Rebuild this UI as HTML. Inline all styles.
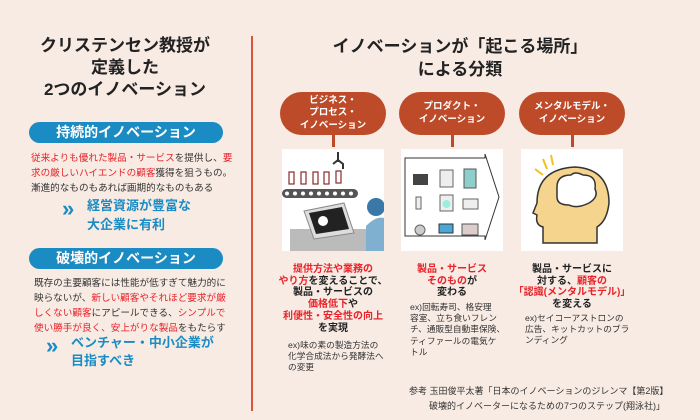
<!DOCTYPE html>
<html><head><meta charset="utf-8"><style>
*{margin:0;padding:0;box-sizing:border-box}
body{width:700px;height:420px;background:#f8ebe4;position:relative;overflow:hidden;font-family:"Liberation Sans","Noto Sans CJK JP",sans-serif;color:#222}
.a{position:absolute;white-space:nowrap}
.r{color:#e8232a}
.pill{position:absolute;background:#1b8cc3;color:#fff;border-radius:11px;font-weight:bold;font-size:14px;text-align:center;line-height:21px}
.op{position:absolute;background:#bd4b29;color:#fff;border-radius:22px;font-weight:bold;font-size:9.5px;text-align:center;line-height:12.5px;display:flex;align-items:center;justify-content:center;width:106px;height:43px;top:92px}
.stem{position:absolute;width:3px;height:12px;background:#bd4b29;top:135px}
.img{position:absolute;background:#fff;width:102px;height:102px;top:149px}
.bt{position:absolute;text-align:center;font-weight:bold;font-size:10px;line-height:11.7px;width:160px;white-space:nowrap}
.ex{position:absolute;font-size:8.7px;line-height:11.2px;color:#333;white-space:nowrap}
</style></head><body>
<div class="a" style="left:0;width:250px;top:35px;text-align:center;font-weight:bold;font-size:17px;line-height:22px">クリステンセン教授が<br>定義した<br>2つのイノベーション</div>
<div class="pill" style="left:29px;top:122px;width:194px;height:21px">持続的イノベーション</div>
<div class="a" style="left:31px;top:151px;font-size:9.6px;line-height:15px;color:#333"><span class="r">従来よりも優れた製品・サービス</span>を提供し、<span class="r">要</span><br><span class="r">求の厳しいハイエンドの顧客</span>獲得を狙うもの。<br>漸進的なものもあれば画期的なものもある</div>
<div class="a" style="left:62px;top:196px;font-size:22px;color:#1b8cc3;font-weight:bold">»</div>
<div class="a" style="left:87px;top:196px;font-size:13px;line-height:19px;color:#1b8cc3;font-weight:bold">経営資源が豊富な<br>大企業に有利</div>
<div class="pill" style="left:29px;top:248px;width:194px;height:21px">破壊的イノベーション</div>
<div class="a" style="left:34px;top:276px;font-size:9.6px;line-height:15px;color:#333">既存の主要顧客には性能が低すぎて魅力的に<br>映らないが、<span class="r">新しい顧客やそれほど要求が厳</span><br><span class="r">しくない顧客</span>にアピールできる、<span class="r">シンプルで</span><br><span class="r">使い勝手が良く、安上がりな製品</span>をもたらす</div>
<div class="a" style="left:46px;top:333px;font-size:22px;color:#1b8cc3;font-weight:bold">»</div>
<div class="a" style="left:71px;top:334px;font-size:13px;line-height:18px;color:#1b8cc3;font-weight:bold">ベンチャー・中小企業が<br>目指すべき</div>
<div class="a" style="left:251px;top:36px;width:2px;height:375px;background:#d9553a"></div>
<div class="a" style="left:260px;top:35px;width:400px;text-align:center;font-weight:bold;font-size:17px;line-height:23px">イノベーションが「起こる場所」<br>による分類</div>

<div class="op" style="left:280px">ビジネス・<br>プロセス・<br>イノベーション</div>
<div class="op" style="left:399px">プロダクト・<br>イノベーション</div>
<div class="op" style="left:519px">メンタルモデル・<br>イノベーション</div>
<div class="stem" style="left:332px"></div><div class="stem" style="left:451px"></div><div class="stem" style="left:571px"></div>

<svg class="img" style="left:282px" viewBox="0 0 102 102">
<g fill="none" stroke="#8a2a2a" stroke-width="1.2">
<rect x="7" y="23" width="5" height="12"/><rect x="19" y="23" width="5" height="12"/><rect x="31" y="23" width="5" height="12"/><rect x="42" y="23" width="5" height="12"/><rect x="54" y="22" width="5" height="12"/></g>
<path d="M56 3v10M51 15l5-4 5 4v5" stroke="#333" stroke-width="2" fill="none"/>
<rect x="0" y="40" width="76" height="9" rx="4.5" fill="#555"/>
<g fill="#fff"><circle cx="5" cy="44.5" r="2"/><circle cx="13" cy="44.5" r="2"/><circle cx="21" cy="44.5" r="2"/><circle cx="29" cy="44.5" r="2"/><circle cx="37" cy="44.5" r="2"/><circle cx="45" cy="44.5" r="2"/><circle cx="53" cy="44.5" r="2"/><circle cx="61" cy="44.5" r="2"/><circle cx="69" cy="44.5" r="2"/></g>
<rect x="8" y="80" width="78" height="22" fill="#bbb"/>
<path d="M22 62l40-8 10 30-40 6z" fill="#ddd" stroke="#888"/>
<path d="M27 64l33-6 7 22-33 5z" fill="#222"/>
<circle cx="41" cy="72" r="5" fill="#fff"/>
<circle cx="94" cy="58" r="9" fill="#3a78a8"/>
<path d="M84 102v-25q10-10 18-8v33z" fill="#7fb0cf"/>
</svg>
<svg class="img" style="left:401px" viewBox="0 0 102 102">
<path d="M4 9h80v-4l14 43-14 43v-4H4z" fill="#fff" stroke="#333" stroke-width="1"/>
<rect x="12" y="25" width="15" height="11" fill="#444"/>
<rect x="39" y="21" width="13" height="17" fill="#eee" stroke="#666"/>
<rect x="63" y="20" width="12" height="19" fill="#8ecfcc" stroke="#555"/>
<rect x="15" y="48" width="5" height="12" fill="#eee" stroke="#666"/>
<rect x="39" y="46" width="13" height="16" fill="#eee" stroke="#666"/><circle cx="45.5" cy="55" r="4" fill="#9ed"/>
<rect x="62" y="50" width="15" height="10" fill="#eee" stroke="#666"/>
<circle cx="19" cy="81" r="5" fill="#ccc" stroke="#666"/>
<rect x="38" y="75" width="14" height="9" fill="#4aa6d6" stroke="#333"/>
<rect x="61" y="75" width="16" height="11" fill="#dcc" stroke="#555"/>
</svg>
<svg class="img" style="left:521px" viewBox="0 0 102 102">
<path d="M22 94v-16q-8-2-6-12l-4-2 4-10q0-34 38-36 34 2 34 36-2 18-12 24v16z" fill="#f5d48d" stroke="#333" stroke-width="1.5"/>
<path d="M36 38q0-12 14-12 4-4 12 0 14 0 12 14 4 8-6 14-12 6-20 2-12 0-12-8z" fill="#fff" stroke="#333" stroke-width="1.5"/>
<path d="M14 20l8 6M22 10l4 10M30 6l2 10" stroke="#f3c020" stroke-width="2"/>
</svg>

<div class="bt" style="left:253px;top:264px"><span class="r">提供方法や業務の<br>やり方</span>を変えることで、<br>製品・サービスの<br><span class="r">価格低下</span>や<br><span class="r">利便性・安全性の向上</span><br>を実現</div>
<div class="ex" style="left:288px;top:340px">ex)味の素の製造方法の<br>化学合成法から発酵法へ<br>の変更</div>
<div class="bt" style="left:372px;top:264px"><span class="r">製品・サービス<br>そのもの</span>が<br>変わる</div>
<div class="ex" style="left:410px;top:302px">ex)回転寿司、格安理<br>容室、立ち食いフレン<br>チ、通販型自動車保険、<br>ティファールの電気ケ<br>トル</div>
<div class="bt" style="left:492px;top:264px">製品・サービスに<br>対する、<span class="r">顧客の<br>「認識(メンタルモデル)」</span><br>を変える</div>
<div class="ex" style="left:525px;top:313px">ex)セイコーアストロンの<br>広告、キットカットのブラ<br>ンディング</div>
<div class="ex" style="left:409px;top:384px;line-height:15px;font-size:9px">参考 玉田俊平太著「日本のイノベーションのジレンマ【第2版】<br>&nbsp;&nbsp;&nbsp;&nbsp;&nbsp;&nbsp;&nbsp;&nbsp;破壊的イノベーターになるための7つのステップ(翔泳社)」</div>
</body></html>
